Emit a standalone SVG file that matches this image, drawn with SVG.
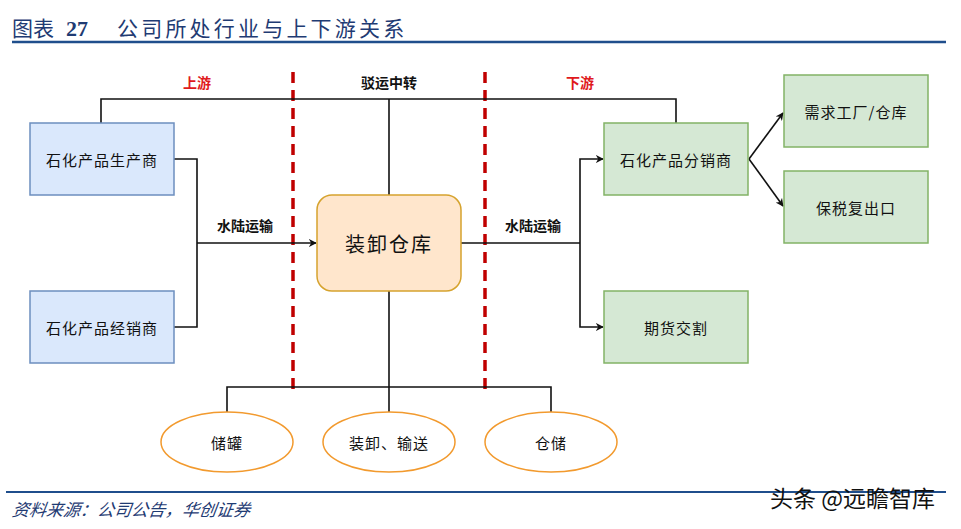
<svg xmlns="http://www.w3.org/2000/svg" width="961" height="529" viewBox="0 0 961 529">
<style>
text{font-family:"Noto Sans CJK SC","Liberation Sans",sans-serif;}
.t{font-size:15px;fill:#111;text-anchor:middle;dominant-baseline:central;letter-spacing:1px}
.lb{font-size:14px;font-weight:bold;fill:#111;text-anchor:middle;dominant-baseline:central}
.red{fill:#e0191c}
.blue{fill:#dae8fc;stroke:#6c8ebf;stroke-width:1.5}
.green{fill:#d5e8d4;stroke:#82b366;stroke-width:1.5}
.ell{fill:#fff;stroke:#f29a2e;stroke-width:1.5}
.ln{fill:none;stroke:#111;stroke-width:1.6}
.dash{stroke:#c00000;stroke-width:3.5;stroke-dasharray:11 7}
</style>
<defs>
<marker id="ar" viewBox="0 0 10 10" refX="9" refY="5" markerWidth="8" markerHeight="8" markerUnits="userSpaceOnUse" orient="auto">
<path d="M0,0 L10,5 L0,10 L3,5 Z" fill="#111"/>
</marker>
</defs>
<rect width="961" height="529" fill="#fff"/>
<g id="title">
<text x="12" y="36" font-size="21" fill="#1f3b73">图表</text>
<text x="66" y="36" font-size="22" font-weight="bold" fill="#1f3b73" style="font-family:'Liberation Serif',serif">27</text>
<text x="117" y="36" font-size="21" fill="#1f3b73" letter-spacing="3.2">公司所处行业与上下游关系</text>
<line x1="12" y1="42" x2="946" y2="42" stroke="#1f4e8c" stroke-width="2.5"/>
</g>
<g id="dividers">
<line class="dash" x1="293" y1="72" x2="293" y2="396"/>
<line class="dash" x1="485" y1="72" x2="485" y2="396"/>
</g>
<g id="section-labels">
<text class="lb red" x="197" y="82">上游</text>
<text class="lb" x="389" y="82">驳运中转</text>
<text class="lb red" x="580" y="82">下游</text>
<text class="lb" x="245" y="225">水陆运输</text>
<text class="lb" x="533" y="225">水陆运输</text>
</g>
<g id="connectors">
<path class="ln" d="M101,123 V99 H676 V123"/>
<path class="ln" d="M389,99 V195"/>
<path class="ln" d="M174,159 H197 V327 H174"/>
<path class="ln" d="M197,243 H316" marker-end="url(#ar)"/>
<path class="ln" d="M461,243 H580"/>
<path class="ln" d="M580,243 V159 H603" marker-end="url(#ar)"/>
<path class="ln" d="M580,243 V327 H603" marker-end="url(#ar)"/>
<path class="ln" d="M749,159 L783,113" marker-end="url(#ar)"/>
<path class="ln" d="M749,159 L783,206" marker-end="url(#ar)"/>
<path class="ln" d="M389,291 V412"/>
<path class="ln" d="M227,412 V387 H551 V412"/>
</g>
<g id="producer"><rect class="blue" x="30" y="123" width="144" height="72"/><text class="t" x="102" y="159">石化产品生产商</text></g>
<g id="dealer"><rect class="blue" x="30" y="291" width="144" height="72"/><text class="t" x="102" y="327">石化产品经销商</text></g>
<g id="warehouse"><rect x="317" y="195" width="144" height="96" rx="15" fill="#ffe6cc" stroke="#d6a32e" stroke-width="1.5"/><text class="t" x="389" y="243" style="font-size:20px;letter-spacing:2px">装卸仓库</text></g>
<g id="distributor"><rect class="green" x="604" y="123" width="144" height="72"/><text class="t" x="676" y="159">石化产品分销商</text></g>
<g id="futures"><rect class="green" x="604" y="291" width="144" height="72"/><text class="t" x="676" y="327">期货交割</text></g>
<g id="demand"><rect class="green" x="784" y="75" width="144" height="72"/><text class="t" x="856" y="111">需求工厂/仓库</text></g>
<g id="bonded"><rect class="green" x="784" y="171" width="144" height="72"/><text class="t" x="856" y="207">保税复出口</text></g>
<g id="storage-tank"><ellipse class="ell" cx="227" cy="442" rx="66" ry="30"/><text class="t" x="227" y="442">储罐</text></g>
<g id="loading"><ellipse class="ell" cx="389" cy="442" rx="66" ry="30"/><text class="t" x="389" y="442">装卸、输送</text></g>
<g id="storage"><ellipse class="ell" cx="551" cy="442" rx="66" ry="30"/><text class="t" x="551" y="442">仓储</text></g>
<g id="footer">
<line x1="6" y1="492" x2="946" y2="492" stroke="#1f4e8c" stroke-width="2"/>
<text x="12" y="516" font-size="17" fill="#1f3b73" font-style="italic" transform="skewX(-8) translate(72,0)">资料来源：公司公告，华创证券</text>
<text x="770" y="507" font-size="23" fill="#111">头条 @远瞻智库</text>
</g>
</svg>
